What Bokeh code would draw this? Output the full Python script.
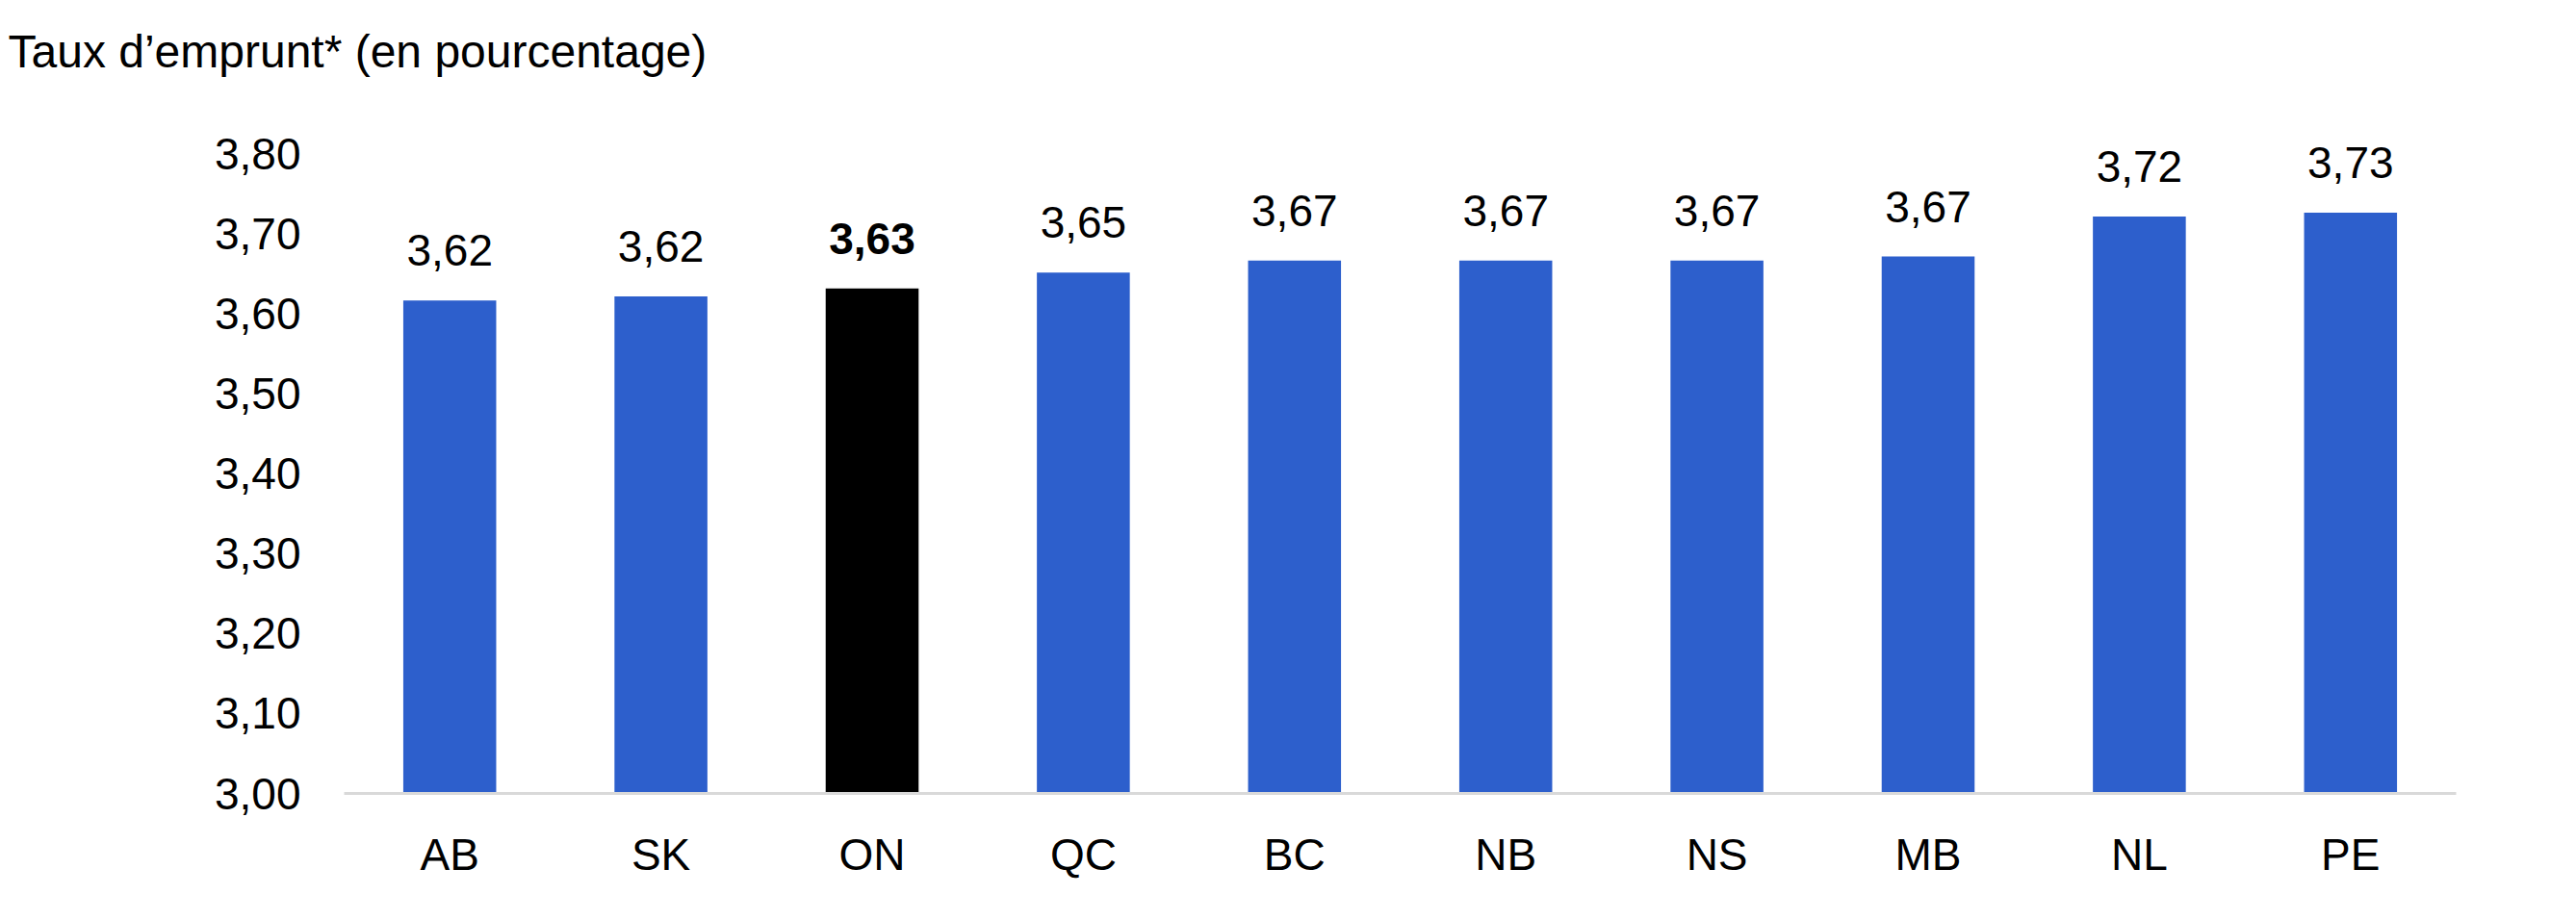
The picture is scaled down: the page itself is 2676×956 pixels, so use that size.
from bokeh.plotting import figure
from bokeh.models import ColumnDataSource, FactorRange, Range1d, FixedTicker, Title
from bokeh.core.properties import value
from bokeh.embed import file_html
from bokeh.resources import INLINE

provinces = ["AB", "SK", "ON", "QC", "BC", "NB", "NS", "MB", "NL", "PE"]
rates = [3.617, 3.622, 3.632, 3.652, 3.667, 3.667, 3.667, 3.672, 3.722, 3.727]
highlight = "ON"
y_ticks = [3.0, 3.1, 3.2, 3.3, 3.4, 3.5, 3.6, 3.7, 3.8]
y_tick_labels = ["3,00", "3,10", "3,20", "3,30", "3,40", "3,50", "3,60", "3,70", "3,80"]
title_text = "Taux d\u2019emprunt* (en pourcentage)"

BLUE = "#2D5FCC"
FONT = "Liberation Sans"
FS = "46px"

colors = ["#000000" if c == highlight else BLUE for c in provinces]
labels = [f"{v:.2f}".replace(".", ",") for v in rates]
styles = ["bold" if c == highlight else "normal" for c in provinces]

src = ColumnDataSource(dict(cat=provinces, val=rates, color=colors, label=labels, style=styles))

p = figure(
    width=2660, height=940,
    x_range=FactorRange(*provinces, range_padding=0),
    y_range=Range1d(3.0, 3.872),
    output_backend="svg", toolbar_location=None,
    min_border_left=357, min_border_right=109,
    min_border_top=100, min_border_bottom=116,
)
p.title = Title(text=title_text, align="left", offset=-349, standoff=42,
                text_font=FONT, text_font_size="48px", text_font_style="normal",
                text_color="#000000")

p.vbar(x="cat", top="val", bottom=3.0, width=0.44, color="color", line_color=None, source=src)
p.text(x="cat", y="val", text="label", source=src, text_align="center",
       text_baseline="alphabetic", y_offset=-52, text_font=value(FONT),
       text_font_size=FS, text_font_style="style", text_color="#000000")

p.xgrid.grid_line_color = None
p.ygrid.grid_line_color = None
p.outline_line_color = None

p.yaxis.ticker = FixedTicker(ticks=y_ticks)
p.yaxis.major_label_overrides = dict(zip(y_ticks, y_tick_labels))
p.yaxis.axis_line_color = None
p.yaxis.major_tick_line_color = None
p.yaxis.minor_tick_line_color = None
p.yaxis.major_tick_out = 0
p.yaxis.major_tick_in = 0
p.yaxis.major_label_standoff = 45
p.yaxis.major_label_text_font = FONT
p.yaxis.major_label_text_font_size = FS
p.yaxis.major_label_text_color = "#000000"

p.xaxis.axis_line_color = "#D9D9D9"
p.xaxis.axis_line_width = 3
p.xaxis.major_tick_line_color = None
p.xaxis.minor_tick_line_color = None
p.xaxis.major_tick_out = 0
p.xaxis.major_tick_in = 0
p.xaxis.major_label_standoff = 37
p.xaxis.major_label_text_font = FONT
p.xaxis.major_label_text_font_size = FS
p.xaxis.major_label_text_color = "#000000"

open("out.html", "w").write(file_html(p, INLINE))
